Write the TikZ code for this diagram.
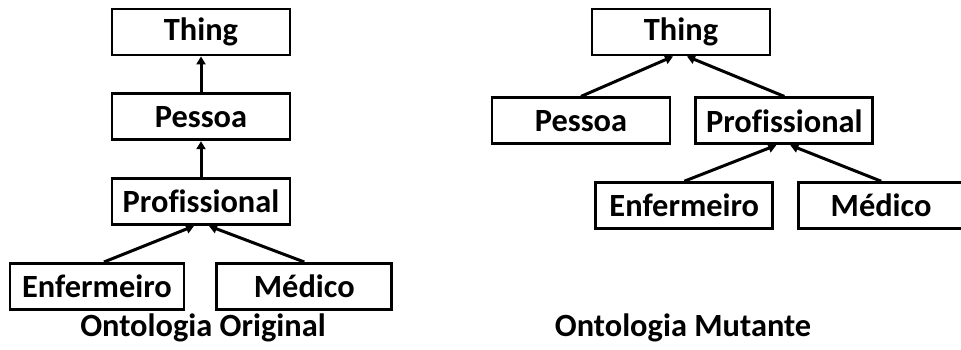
\documentclass[tikz,border=0pt]{standalone}
\usepackage{fontspec}
\setmainfont[Ligatures=NoCommon]{Carlito}
\usetikzlibrary{arrows.meta,positioning,calc}

\begin{document}
\begin{tikzpicture}[
  node distance=18pt and 15pt,
  box/.style={draw, line width=1.4pt, minimum width=89pt, minimum height=23pt,
              inner sep=0pt, font=\bfseries\fontsize{16.2}{19}\selectfont},
  caption/.style={font=\bfseries\fontsize{16.2}{19}\selectfont, inner sep=0pt},
  arrow/.style={-{Triangle[length=4pt, width=4.5pt]}, line width=1.5pt},
]
  \useasboundingbox (0,0) rectangle (480.5pt,-174.5pt);

  % original ontology
  \node[box] (thingO) at (100.5pt,-16pt) {Thing};
  \node[box, below=of thingO] (pessoaO) {Pessoa};
  \node[box, below=of pessoaO] (profO) {Profissional};
  \node[box, minimum width=87pt, below=of profO, xshift=-52pt] (enfO) {Enfermeiro};
  \node[box, minimum width=87.5pt, right=of enfO] (medO) {Médico};
  \node[caption] (capO) at (101.5pt,-164pt) {Ontologia Original};

  \draw[arrow] (pessoaO) -- (thingO);
  \draw[arrow] (profO) -- (pessoaO);
  \draw[arrow] ($(enfO.north)+(3.5pt,0)$) -- ($(profO.south)+(-3.5pt,0)$);
  \draw[arrow] (medO.north) -- ($(profO.south)+(4pt,0)$);

  % mutant ontology
  \node[box] (thingM) at (340.5pt,-16pt) {Thing};
  \node[box, below=20pt of thingM, xshift=-50pt] (pessoaM) {Pessoa};
  \node[box, minimum width=88.5pt, right=11.5pt of pessoaM] (profM) {Profissional};
  \node[box, minimum width=88.5pt, below=of profM, xshift=-50pt] (enfM) {Enfermeiro};
  \node[box, minimum width=82.5pt, right=11.5pt of enfM] (medM) {Médico};
  \node[caption] (capM) at (341.5pt,-164pt) {Ontologia Mutante};

  \draw[arrow] (pessoaM.north) -- ($(thingM.south)+(-4pt,0)$);
  \draw[arrow] (profM.north) -- ($(thingM.south)+(3pt,0)$);
  \draw[arrow] (enfM.north) -- ($(profM.south)+(-4pt,0)$);
  \draw[arrow] (medM.north) -- ($(profM.south)+(3pt,0)$);
\end{tikzpicture}
\end{document}
